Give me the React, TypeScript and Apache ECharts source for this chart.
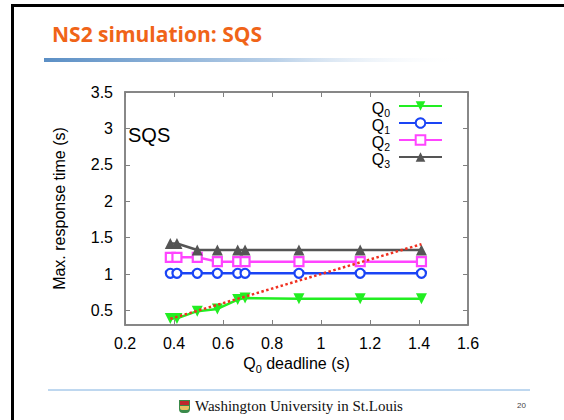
import React, { useEffect, useRef } from "react";
import * as echarts from "echarts";

const deadlines = [0.385, 0.412, 0.495, 0.577, 0.66, 0.69, 0.91, 1.16, 1.41];
const q0 = [0.39, 0.39, 0.49, 0.52, 0.65, 0.67, 0.66, 0.66, 0.66];
const q1 = [1.01, 1.01, 1.01, 1.01, 1.01, 1.01, 1.01, 1.01, 1.01];
const q2 = [1.23, 1.23, 1.23, 1.17, 1.17, 1.17, 1.17, 1.17, 1.17];
const q3 = [1.42, 1.42, 1.33, 1.33, 1.33, 1.33, 1.33, 1.33, 1.33];
const deadlineLine = [0.385, 1.41];
const yTicks = [0.5, 1, 1.5, 2, 2.5, 3, 3.5];
const seriesNames = ["Q0", "Q1", "Q2", "Q3"];

const pair = (ys: number[]) => deadlines.map((x, i) => [x, ys[i]]);

export default function App() {
  const ref = useRef<HTMLDivElement>(null);
  useEffect(() => {
    if (!ref.current) return;
    const chart = echarts.init(ref.current, undefined, { renderer: "svg" });
    const font = "Liberation Sans, Arial, sans-serif";
    const axisColor = "#808080";
    const nameRich = {
      q: { fontSize: 16, fontFamily: font, color: "#000", verticalAlign: "top", lineHeight: 16 },
      s: { fontSize: 11, fontFamily: font, color: "#000", verticalAlign: "top", lineHeight: 11, padding: [8, 0, 0, 0] },
      n: { fontSize: 16, fontFamily: font, color: "#000", verticalAlign: "top", lineHeight: 16 },
    };
    const legendRich = {
      q: { fontSize: 16, fontFamily: font, color: "#000", verticalAlign: "top", lineHeight: 12 },
      s: { fontSize: 10.5, fontFamily: font, color: "#000", verticalAlign: "top", lineHeight: 10, padding: [7, 0, 0, 0] },
    };
    const mk = (name: string, ys: number[], color: string, symbol: string, size: number, hollow: boolean) => ({
      name,
      type: "line",
      data: pair(ys),
      xAxisIndex: 0,
      yAxisIndex: 0,
      symbol,
      symbolSize: size,
      showSymbol: true,
      lineStyle: { color, width: 2.5 },
      itemStyle: hollow
        ? { color: "#fff", borderColor: color, borderWidth: 2.2 }
        : { color, borderColor: color, borderWidth: 0 },
      z: 3,
    });
    chart.setOption({
      animation: false,
      backgroundColor: "#fff",
      textStyle: { fontFamily: font },
      grid: { left: 125, top: 92, right: 96, bottom: 95, show: true, borderColor: axisColor, borderWidth: 1.5 },
      legend: {
        data: seriesNames,
        orient: "vertical",
        align: "right",
        right: 116,
        top: 95,
        itemWidth: 43,
        itemHeight: 12,
        itemGap: -1,
        formatter: (n: string) => `{q|Q}{s|${n.slice(1)}}`,
        textStyle: { rich: legendRich, padding: [0, 4, 0, 0] },
      },
      xAxis: [
        {
          type: "value",
          min: 0.2,
          max: 1.6,
          interval: 0.2,
          name: "{q|Q}{s|0}{n| deadline (s)}",
          nameLocation: "middle",
          nameGap: 24,
          nameTextStyle: { rich: nameRich },
          axisLine: { show: true, lineStyle: { color: axisColor, width: 1.5 } },
          axisTick: { show: true, inside: true, length: 5, lineStyle: { color: axisColor } },
          axisLabel: {
            color: "#000",
            fontSize: 16,
            margin: 10,
            formatter: (v: number) => String(Math.round(v * 10) / 10),
          },
          splitLine: { show: false },
        },
        {
          type: "value",
          position: "top",
          min: 0.2,
          max: 1.6,
          interval: 0.2,
          axisLine: { show: true, lineStyle: { color: axisColor, width: 1.5 } },
          axisTick: { show: true, inside: true, length: 5, lineStyle: { color: axisColor } },
          axisLabel: { show: false },
          splitLine: { show: false },
        },
      ],
      yAxis: [
        {
          type: "value",
          min: 0.3,
          max: 3.5,
          name: "Max. response time (s)",
          nameLocation: "middle",
          nameGap: 58,
          nameTextStyle: { color: "#000", fontSize: 16, fontFamily: font },
          axisLine: { show: true, lineStyle: { color: axisColor, width: 1.5 } },
          axisTick: { show: true, inside: true, length: 5, customValues: yTicks, lineStyle: { color: axisColor } },
          axisLabel: { color: "#000", fontSize: 16, margin: 12, customValues: yTicks },
          splitLine: { show: false },
        },
        {
          type: "value",
          position: "right",
          min: 0.3,
          max: 3.5,
          axisLine: { show: true, lineStyle: { color: axisColor, width: 1.5 } },
          axisTick: { show: true, inside: true, length: 5, customValues: yTicks, lineStyle: { color: axisColor } },
          axisLabel: { show: false, customValues: yTicks },
          splitLine: { show: false },
        },
      ],
      series: [
        mk("Q0", q0, "#22ee22", "path://M0,0 L10,0 L5,9 Z", 11, false),
        mk("Q1", q1, "#1a44f5", "circle", 9, true),
        mk("Q2", q2, "#ff44ff", "rect", 9, true),
        mk("Q3", q3, "#555555", "triangle", 11, false),
        {
          name: "deadline",
          type: "line",
          data: deadlineLine.map((v) => [v, v]),
          symbol: "none",
          lineStyle: { color: "#f03020", width: 2.5, type: [2.5, 2.5] },
          z: 4,
        },
      ],
      graphic: [
        { type: "rect", shape: { x: 11, y: 4, width: 3, height: 420 }, style: { fill: "#000" } },
        { type: "rect", shape: { x: 11, y: 4, width: 560, height: 3 }, style: { fill: "#000" } },
        {
          type: "text",
          left: 52,
          top: 23,
          style: { text: "NS2 simulation: SQS", fill: "#f06418", font: "bold 21px 'Open Sans', Lato, sans-serif" },
        },
        {
          type: "rect",
          shape: { x: 44, y: 58, width: 420, height: 4 },
          style: {
            fill: new echarts.graphic.LinearGradient(0, 0, 1, 0, [
              { offset: 0, color: "#5b8fc5" },
              { offset: 0.55, color: "#b9d0e8" },
              { offset: 1, color: "rgba(255,255,255,0)" },
            ]),
          },
        },
        {
          type: "text",
          left: 128,
          top: 125,
          style: { text: "SQS", fill: "#000", font: `20px ${font}` },
          z: 5,
        },
        { type: "line", shape: { x1: 48, y1: 390, x2: 530, y2: 390 }, style: { stroke: "#7fb0e0", lineWidth: 1 } },
        {
          type: "group",
          left: 179,
          top: 400,
          children: [
            { type: "rect", shape: { x: 0, y: 0, width: 11, height: 13, r: [0, 0, 4, 4] }, style: { fill: "#3a8a4a" } },
            { type: "rect", shape: { x: 1, y: 1, width: 9, height: 4 }, style: { fill: "#c0282d" } },
            { type: "rect", shape: { x: 1, y: 6, width: 9, height: 4, r: [0, 0, 2, 2] }, style: { fill: "#e8c060" } },
          ],
        },
        {
          type: "text",
          left: 195,
          top: 398,
          style: { text: "Washington University in St.Louis", fill: "#111", font: "15px 'Liberation Serif', 'DejaVu Serif', serif" },
        },
        {
          type: "text",
          left: 517,
          top: 401,
          style: { text: "20", fill: "#444", font: "8px 'Liberation Sans', sans-serif" },
        },
      ],
    });
    return () => chart.dispose();
  }, []);
  return <div ref={ref} style={{ width: 564, height: 420, position: "absolute", left: 0, top: 0 }} />;
}
